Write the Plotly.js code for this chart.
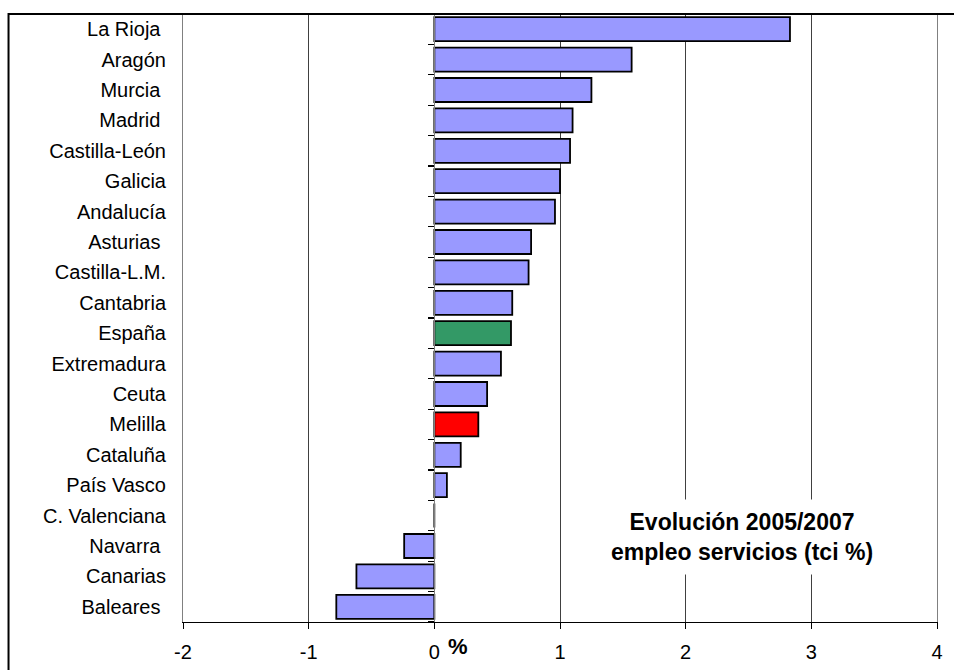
<!DOCTYPE html>
<html>
<head>
<meta charset="utf-8">
<script src="https://cdn.plot.ly/plotly-3.0.1.min.js"></script>
<style>html,body{margin:0;padding:0;background:#fff;}#chart{width:954px;height:670px;}</style>
</head>
<body>
<div id="chart"></div>
<script>
// Regions (top to bottom) and employment change 2005/2007 in services (tci %)
var regions = ["La Rioja\u00a0", "Aragón", "Murcia\u00a0", "Madrid\u00a0", "Castilla-León", "Galicia",
  "Andalucía", "Asturias\u00a0", "Castilla-L.M.", "Cantabria", "España", "Extremadura", "Ceuta",
  "Melilla", "Cataluña", "País Vasco", "C. Valenciana", "Navarra\u00a0", "Canarias", "Baleares\u00a0"];
var values = [2.83, 1.57, 1.25, 1.10, 1.08, 1.00, 0.96, 0.77, 0.75, 0.62, 0.61, 0.53, 0.42,
  0.35, 0.21, 0.10, 0.00, -0.24, -0.62, -0.78];
var xTicks = [-2, -1, 0, 1, 2, 3, 4];
var highlightSpain = "España";
var highlightMelilla = "Melilla";

var colors = regions.map(function (r) {
  if (r === highlightSpain) return "#339966";
  if (r === highlightMelilla) return "#FF0000";
  return "#9999FF";
});

// index positions of the categories and of the boundaries between them
var idx = regions.map(function (r, i) { return i; });
var boundaries = [-0.5].concat(idx.map(function (i) { return i + 0.5; }));

var font = "Liberation Sans, Arial, sans-serif";

var traces = [
  {
    type: "bar", orientation: "h", x: values, y: regions,
    marker: {color: colors, line: {color: "#000000", width: 1.8}},
    hoverinfo: "x+y", showlegend: false
  },
  {
    type: "scatter", mode: "none", x: values, y: idx, yaxis: "y2",
    hoverinfo: "skip", showlegend: false
  }
];

var catRange = [regions.length - 0.5, -0.5];

var layout = {
  width: 954, height: 670,
  margin: {l: 183, r: 17, t: 14, b: 48},
  paper_bgcolor: "#ffffff", plot_bgcolor: "#ffffff",
  font: {family: font, size: 20, color: "#000"},
  bargap: 0.21,
  xaxis: {
    range: [-2, 4], tickvals: xTicks, ticktext: xTicks.map(String),
    showgrid: true, gridcolor: "#404040", gridwidth: 1, zeroline: false,
    showline: true, linecolor: "#000", linewidth: 1,
    ticks: "outside", ticklen: 6, tickcolor: "#000",
    tickfont: {family: font, size: 20, color: "#000"},
    ticklabelstandoff: 6, fixedrange: true
  },
  yaxis: {
    type: "category", categoryorder: "array", categoryarray: regions,
    range: catRange, showgrid: false, zeroline: false,
    showline: true, mirror: true, linecolor: "#808080", linewidth: 1,
    ticks: "", tickfont: {family: font, size: 20, color: "#000"},
    ticklabelstandoff: 12, fixedrange: true
  },
  yaxis2: {
    type: "linear", range: catRange, overlaying: "y", anchor: "free", position: 1 / 3, side: "left",
    tickmode: "array", tickvals: boundaries,
    showgrid: false, zeroline: false, showticklabels: false,
    showline: true, linecolor: "#808080", linewidth: 1,
    ticks: "outside", ticklen: 6, tickwidth: 1.2, tickcolor: "#000",
    fixedrange: true
  },
  shapes: [
    {type: "rect", xref: "paper", yref: "paper", x0: -0.2314, x1: 1.2, y0: -0.3, y1: 1,
     line: {color: "#000", width: 2}, fillcolor: "rgba(0,0,0,0)", layer: "above"}
  ],
  annotations: [
    {xref: "paper", yref: "paper", x: 0.742, y: 0.14, xanchor: "center", yanchor: "middle",
     text: "<b>Evolución 2005/2007<br>empleo servicios (tci %)</b>", showarrow: false,
     font: {family: font, size: 23, color: "#000"}, bgcolor: "#ffffff", borderpad: 9, align: "center"},
    {xref: "paper", yref: "paper", x: 0.365, y: -0.04, xanchor: "center", yanchor: "middle",
     text: "<b>%</b>", showarrow: false, font: {family: font, size: 22, color: "#000"}}
  ]
};

Plotly.newPlot("chart", traces, layout, {displayModeBar: false, staticPlot: true});
</script>
</body>
</html>
